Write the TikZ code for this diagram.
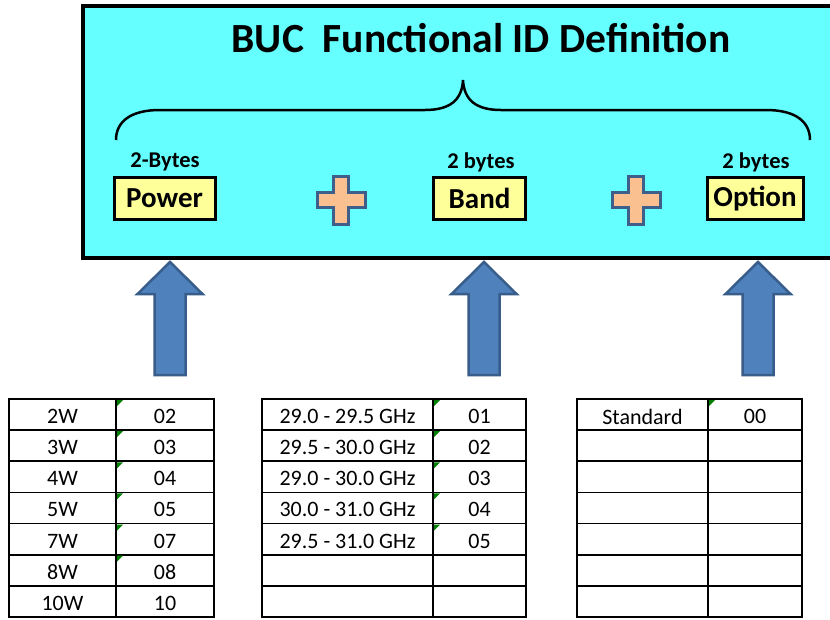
\documentclass[tikz,border=0pt]{standalone}
\usepackage{fontspec}
\setmainfont{Carlito}
\definecolor{panelcyan}{HTML}{66FFFF}
\definecolor{fieldyellow}{HTML}{FFFF99}
\definecolor{plusfill}{HTML}{FAC090}
\definecolor{plusedge}{HTML}{3F5F8A}
\definecolor{arrowfill}{HTML}{4F81BD}
\definecolor{arrowedge}{HTML}{385D8A}
\definecolor{markgreen}{HTML}{008000}
\tikzset{
  title/.style={font=\fontsize{41.5}{44}\selectfont\bfseries},
  bytes/.style={font=\fontsize{22.5}{25}\selectfont\bfseries},
  field/.style={draw=black, line width=3pt, fill=fieldyellow,
    inner sep=0pt, minimum height=42pt, font=\fontsize{29}{32}\selectfont\bfseries},
  cell/.style={font=\fontsize{22}{25}\selectfont, inner sep=0pt},
  gridline/.style={line width=1.6pt, black},
  pics/plus/.style={code={
    \draw[plusedge, line width=3pt, fill=plusfill]
      (-7.5,-24) -- (7.5,-24) -- (7.5,-7.5) -- (24,-7.5) -- (24,7.5) -- (7.5,7.5)
      -- (7.5,24) -- (-7.5,24) -- (-7.5,7.5) -- (-24,7.5) -- (-24,-7.5) -- (-7.5,-7.5) -- cycle;
  }},
  pics/uparrow/.style={code={
    \draw[arrowedge, line width=2.5pt, fill=arrowfill, line join=miter]
      (0,0) -- (32.5,32) -- (15.5,32) -- (15.5,113) -- (-15.5,113) -- (-15.5,32)
      -- (-32.5,32) -- cycle;
  }},
}
\begin{document}
\begin{tikzpicture}[x=1pt,y=-1pt]
\useasboundingbox (0,0) rectangle (830,619);
\clip (0,0) rectangle (830,619);
\fill[white] (0,0) rectangle (830,619);

% header panel
\draw[line width=4pt, fill=panelcyan] (83,6) rectangle (850,258);
\node[title] (ttl) at (481,38) {BUC\ \ Functional ID Definition};

% curly brace over the three fields
\draw[line width=2.5pt]
  (116,140) .. controls (116,122) and (130,110) .. (160,110) -- (425,110)
  .. controls (450,110) and (462,100) .. (463,80)
  .. controls (464,100) and (476,110) .. (501,110) -- (766,110)
  .. controls (796,110) and (810,122) .. (810,140);

% fields
\node[bytes] (bpow) at (165,162) {2-Bytes};
\node[bytes] (bband) at (481,162) {2 bytes};
\node[bytes] (bopt) at (756,162) {2 bytes};
\node[field, minimum width=101pt] (power) at (164.5,198.5) {Power};
\node[field, minimum width=92pt] (band) at (479.5,198.5) {Band};
\node[field, minimum width=96pt] (option) at (755,198.5) {Option};
\pic at (341,200) {plus};
\pic at (636,200) {plus};

% block arrows
\pic at (170,262) {uparrow};
\pic at (484,262) {uparrow};
\pic at (758,262) {uparrow};

% power table
\draw[gridline] (9,399) rectangle (214,617);
\draw[gridline] (116,399) -- (116,617);
\foreach \k in {1,...,6} \draw[gridline] (9,{399+31.14*\k}) -- (214,{399+31.14*\k});
\foreach \k in {0,...,5} \fill[markgreen] (117,{400+31.14*\k}) -- ++(6,0) -- ++(-6,6) -- cycle;
\foreach \w/\c [count=\i from 0] in {2W/02,3W/03,4W/04,5W/05,7W/07,8W/08,10W/10} {
  \node[cell] (pw\i) at (62.5,{416.5+31.14*\i}) {\w};
  \node[cell] (pc\i) at (165,{416.5+31.14*\i}) {\c};
}

% band table
\draw[gridline] (262,399) rectangle (526,617);
\draw[gridline] (433,399) -- (433,617);
\foreach \k in {1,...,6} \draw[gridline] (262,{399+31.14*\k}) -- (526,{399+31.14*\k});
\foreach \k in {0,...,4} \fill[markgreen] (434,{400+31.14*\k}) -- ++(6,0) -- ++(-6,6) -- cycle;
\foreach \w/\c [count=\i from 0] in {29.0 - 29.5 GHz/01,29.5 - 30.0 GHz/02,29.0 - 30.0 GHz/03,30.0 - 31.0 GHz/04,29.5 - 31.0 GHz/05} {
  \node[cell] (bw\i) at (347.5,{416.5+31.14*\i}) {\w};
  \node[cell] (bc\i) at (479.5,{416.5+31.14*\i}) {\c};
}

% option table
\draw[gridline] (577,399) rectangle (802,617);
\draw[gridline] (708,399) -- (708,617);
\foreach \k in {1,...,6} \draw[gridline] (577,{399+31.14*\k}) -- (802,{399+31.14*\k});
\fill[markgreen] (709,400) -- ++(6,0) -- ++(-6,6) -- cycle;
\node[cell] (ow0) at (642.5,416.5) {Standard};
\node[cell] (oc0) at (755,416.5) {00};
\end{tikzpicture}
\end{document}
